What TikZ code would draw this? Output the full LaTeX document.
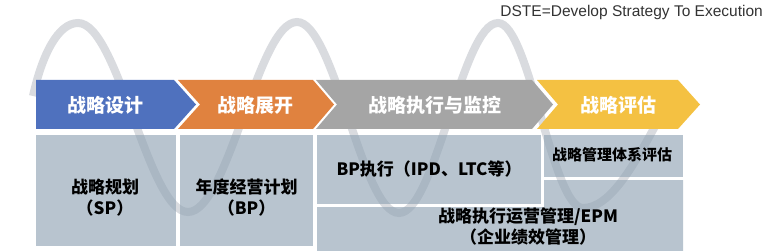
\documentclass[tikz,border=0pt]{standalone}
\usepackage{fontspec}
\setmainfont{Liberation Sans}
\newfontfamily\cjk{Noto Sans CJK SC}[BoldFont={Noto Sans CJK SC Black}]
\definecolor{cblue}{HTML}{4F71BE}
\definecolor{corange}{HTML}{E0823F}
\definecolor{cgray}{HTML}{A5A5A5}
\definecolor{cyellow}{HTML}{F4C142}
\definecolor{cwave}{HTML}{D9DBDF}
\definecolor{cbox}{HTML}{8FA2B3}
\definecolor{ctext}{HTML}{333333}
\begin{document}
\begin{tikzpicture}[x=1pt,y=-1pt,
  stage/.style={text=white,font=\cjk\bfseries\fontsize{19}{19}\selectfont,inner sep=0pt},
  boxtxt/.style={text=black,font=\cjk\bfseries\fontsize{17}{21}\selectfont,align=center,inner sep=0pt},
  smalltxt/.style={boxtxt,font=\cjk\bfseries\fontsize{15}{18}\selectfont},
  panel/.style={fill=cbox,fill opacity=0.63},
  wave/.style={draw=cwave,line width=8pt}]
\useasboundingbox (0,0) rectangle (765,251);
% background wave
\path[wave] (33,96) .. controls (42,55) and (58,23) .. (78,23)
  cos (133,117) sin (188,212) cos (243,117) sin (297,22)
  cos (348,117) sin (399,213) cos (449,117) sin (498,23)
  cos (541,117) sin (583,208) cos (660,117);
% panels
\fill[panel] (36,135) rectangle (176,246);
\fill[panel] (180,135) rectangle (313,246);
\fill[panel] (317,135) rectangle (541,204);
\fill[panel] (544,135) rectangle (683,177);
\fill[panel] (317,207) -- (544,207) -- (544,180) -- (683,180) -- (683,251) -- (317,251) -- cycle;
% stage arrows
\fill[cblue] (36,80) -- (174,80) -- (196,104.5) -- (174,129) -- (36,129) -- cycle;
\fill[corange] (178,80) -- (313,80) -- (334,104.5) -- (313,129) -- (178,129) -- (200,104.5) -- cycle;
\fill[cgray] (316,80) -- (532,80) -- (553,104.5) -- (532,129) -- (316,129) -- (337,104.5) -- cycle;
\fill[cyellow] (537,80) -- (678,80) -- (700,104.5) -- (678,129) -- (537,129) -- (558,104.5) -- cycle;
% labels
\node[stage] (s1) at (105,105) {战略设计};
\node[stage] (s2) at (255,105) {战略展开};
\node[stage] (s3) at (435,105) {战略执行与监控};
\node[stage] (s4) at (618,105) {战略评估};
\node[boxtxt] (b1) at (105,197.5) {战略规划\\（SP）};
\node[boxtxt] (b2) at (246.5,197.5) {年度经营计划\\（BP）};
\node[boxtxt] (b3) at (429,169) {BP执行（IPD、LTC等）};
\node[smalltxt] (b5) at (612,155) {战略管理体系评估};
\node[boxtxt] (b4) at (528,226.5) {战略执行运营管理/EPM\\（企业绩效管理）};
\node[anchor=east,text=ctext,font=\fontsize{15.5}{16}\selectfont,inner sep=0pt] (dste) at (763,12) {DSTE=Develop Strategy To Execution};
\end{tikzpicture}
\end{document}
